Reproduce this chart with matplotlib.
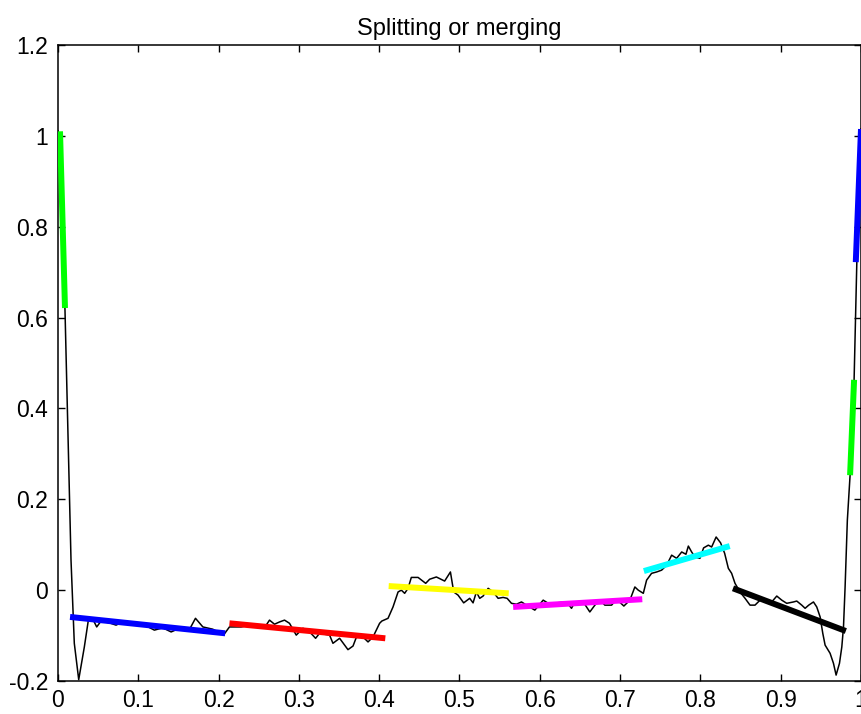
import matplotlib
matplotlib.use("Agg")
import matplotlib.pyplot as plt

# Noisy piecewise signal
signal_x = [
    0.0, 0.0087, 0.0162, 0.0203, 0.0258, 0.0328, 0.0378, 0.0440, 0.0482, 0.0536,
    0.0640, 0.0723, 0.0807, 0.0960, 0.1080, 0.1200, 0.1305, 0.1409, 0.1512, 0.1645,
    0.1712, 0.1804, 0.1928, 0.2061, 0.2135, 0.2198, 0.2281, 0.2385, 0.2593, 0.2634,
    0.2696, 0.2759, 0.2821, 0.2883, 0.2967, 0.3050, 0.3113, 0.3208, 0.3257, 0.3382,
    0.3424, 0.3507, 0.3611, 0.3674, 0.3715, 0.3798, 0.3861, 0.3923, 0.4005, 0.4033,
    0.4110, 0.4172, 0.4235, 0.4276, 0.4317, 0.4359, 0.4400, 0.4484, 0.4579, 0.4628,
    0.4712, 0.4815, 0.4887, 0.4928, 0.4982, 0.5052, 0.5127, 0.5169, 0.5210, 0.5252,
    0.5294, 0.5357, 0.5419, 0.5481, 0.5543, 0.5593, 0.5647, 0.5709, 0.5772, 0.5834,
    0.5938, 0.6042, 0.6105, 0.6208, 0.6333, 0.6395, 0.6436, 0.6541, 0.6623, 0.6686,
    0.6748, 0.6810, 0.6894, 0.6956, 0.7047, 0.7122, 0.7184, 0.7226, 0.7289, 0.7330,
    0.7392, 0.7455, 0.7517, 0.7580, 0.7642, 0.7704, 0.7767, 0.7820, 0.7850, 0.7891,
    0.7932, 0.7994, 0.8040, 0.8099, 0.8140, 0.8196, 0.8252, 0.8302, 0.8348, 0.8389,
    0.8431, 0.8493, 0.8556, 0.8618, 0.8680, 0.8743, 0.8826, 0.8888, 0.8951, 0.9013,
    0.9075, 0.9159, 0.9200, 0.9262, 0.9304, 0.9349, 0.9408, 0.9449, 0.9491, 0.9524,
    0.9553, 0.9615, 0.9657, 0.9690, 0.9732, 0.9761, 0.9782, 0.9802, 0.9830, 0.9864,
    0.9914, 0.9948, 1.0,
]
signal_y = [
    1.011, 0.617, 0.066, -0.117, -0.197, -0.125, -0.066, -0.066, -0.081, -0.068,
    -0.072, -0.077, -0.070, -0.075, -0.077, -0.088, -0.083, -0.092, -0.084, -0.084,
    -0.062, -0.081, -0.086, -0.099, -0.081, -0.081, -0.081, -0.077, -0.077, -0.066,
    -0.075, -0.070, -0.066, -0.073, -0.099, -0.084, -0.088, -0.106, -0.095, -0.099,
    -0.117, -0.106, -0.131, -0.123, -0.104, -0.103, -0.114, -0.103, -0.073, -0.068,
    -0.062, -0.037, -0.004, 0.000, -0.007, 0.004, 0.028, 0.028, 0.015, 0.024,
    0.029, 0.020, 0.040, -0.004, -0.011, -0.028, -0.018, -0.028, -0.004, -0.018,
    -0.013, 0.004, -0.004, -0.018, -0.016, -0.018, -0.029, -0.031, -0.026, -0.033,
    -0.044, -0.022, -0.029, -0.028, -0.026, -0.040, -0.026, -0.026, -0.048, -0.033,
    -0.022, -0.033, -0.033, -0.020, -0.035, -0.022, 0.007, 0.000, -0.007, 0.022,
    0.037, 0.040, 0.044, 0.055, 0.077, 0.070, 0.084, 0.079, 0.097, 0.084,
    0.073, 0.070, 0.093, 0.099, 0.095, 0.117, 0.104, 0.081, 0.048, 0.037,
    0.015, -0.004, -0.018, -0.033, -0.033, -0.022, -0.026, -0.026, -0.013, -0.022,
    -0.029, -0.026, -0.024, -0.033, -0.040, -0.033, -0.026, -0.037, -0.059, -0.095,
    -0.121, -0.139, -0.161, -0.187, -0.161, -0.125, -0.081, 0.007, 0.154, 0.253,
    0.463, 0.722, 1.015,
]

# Fitted line pieces: start and end of each piece
seg_x0 = [0.0025, 0.0150, 0.2135, 0.4118, 0.5668, 0.7296, 0.8406, 0.9864, 0.9935]
seg_y0 = [1.010, -0.059, -0.073, 0.009, -0.037, 0.042, 0.004, 0.253, 0.722]
seg_x1 = [0.0087, 0.2082, 0.4076, 0.5613, 0.7276, 0.8365, 0.9811, 0.9914, 1.0]
seg_y1 = [0.621, -0.095, -0.106, -0.007, -0.020, 0.097, -0.090, 0.463, 1.015]
seg_colors = ["#00ff00", "#0000ff", "#ff0000", "#ffff00", "#ff00ff",
              "#00ffff", "#000000", "#00ff00", "#0000ff"]

x_ticks = [0.0, 0.1, 0.2, 0.3, 0.4, 0.5, 0.6, 0.7, 0.8, 0.9, 1.0]
x_tick_labels = ["0", "0.1", "0.2", "0.3", "0.4", "0.5", "0.6", "0.7", "0.8", "0.9", "1"]
y_ticks = [-0.2, 0.0, 0.2, 0.4, 0.6, 0.8, 1.0, 1.2]
y_tick_labels = ["-0.2", "0", "0.2", "0.4", "0.6", "0.8", "1", "1.2"]

plt.rcParams["font.family"] = ["Liberation Sans", "DejaVu Sans"]

fig = plt.figure(figsize=(8.62, 7.14), dpi=100)
ax = fig.add_axes([58 / 862, 33 / 714, 803 / 862, 636 / 714])

ax.plot(signal_x, signal_y, color="black", linewidth=1.1, zorder=2)
for x0, y0, x1, y1, c in zip(seg_x0, seg_y0, seg_x1, seg_y1, seg_colors):
    ax.plot([x0, x1], [y0, y1], color=c, linewidth=4.3,
            solid_capstyle="butt", zorder=3)

ax.set_xlim(0, 1)
ax.set_ylim(-0.2, 1.2)
ax.set_xticks(x_ticks)
ax.set_xticklabels(x_tick_labels)
ax.set_yticks(y_ticks)
ax.set_yticklabels(y_tick_labels)
ax.tick_params(direction="in", length=5, width=1.0, labelsize=16.5,
               top=True, right=True, colors="black")
ax.tick_params(axis="x", pad=6)
ax.tick_params(axis="y", pad=7)
for s in ax.spines.values():
    s.set_linewidth(1.1)
    s.set_color("black")

ax.set_title("Splitting or merging", fontsize=17, pad=7.5)

fig.savefig("out.png", dpi=100)
